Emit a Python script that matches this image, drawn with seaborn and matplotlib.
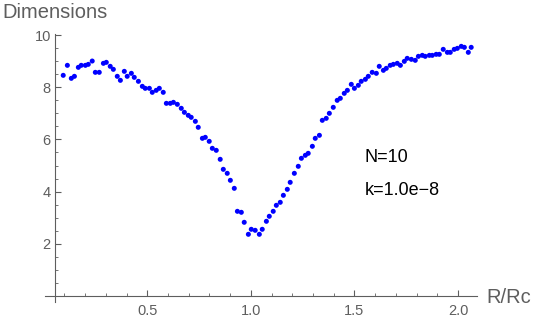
import numpy as np
import pandas as pd
import matplotlib
matplotlib.use("Agg")
import matplotlib.pyplot as plt
from matplotlib.ticker import MultipleLocator
import seaborn as sns

r_over_rc = [0.094, 0.114, 0.133, 0.148, 0.167, 0.181, 0.201, 0.215, 0.234, 0.249,
             0.268, 0.288, 0.302, 0.321, 0.336, 0.355, 0.370, 0.389, 0.403, 0.423,
             0.437, 0.457, 0.476, 0.490, 0.510, 0.524, 0.543, 0.558, 0.577, 0.592,
             0.611, 0.626, 0.645, 0.664, 0.679, 0.698, 0.712, 0.732, 0.746, 0.766,
             0.780, 0.799, 0.814, 0.833, 0.852, 0.867, 0.886, 0.901, 0.920, 0.935,
             0.954, 0.968, 0.988, 1.002, 1.021, 1.041, 1.055, 1.075, 1.089, 1.108,
             1.123, 1.142, 1.157, 1.176, 1.190, 1.210, 1.229, 1.244, 1.263, 1.277,
             1.297, 1.311, 1.331, 1.345, 1.364, 1.379, 1.398, 1.417, 1.432, 1.451,
             1.466, 1.485, 1.500, 1.519, 1.533, 1.553, 1.567, 1.586, 1.606, 1.620,
             1.640, 1.654, 1.673, 1.688, 1.707, 1.722, 1.741, 1.755, 1.775, 1.794,
             1.809, 1.828, 1.842, 1.862, 1.876, 1.895, 1.910, 1.929, 1.949, 1.963,
             1.982, 1.997, 2.016, 2.031, 2.050, 2.064]

dimensions = [8.456, 8.839, 8.341, 8.418, 8.762, 8.839, 8.839, 8.877, 9.004, 8.571,
              8.571, 8.916, 8.954, 8.801, 8.686, 8.418, 8.264, 8.609, 8.418, 8.533,
              8.379, 8.226, 8.034, 7.958, 7.958, 7.805, 7.881, 7.958, 7.805, 7.383,
              7.383, 7.421, 7.345, 7.192, 7.038, 6.923, 6.847, 6.693, 6.464, 6.042,
              6.080, 5.927, 5.659, 5.582, 5.238, 4.854, 4.701, 4.433, 4.126, 3.245,
              3.207, 2.824, 2.364, 2.556, 2.517, 2.364, 2.556, 2.862, 3.054, 3.245,
              3.475, 3.590, 3.858, 4.088, 4.356, 4.701, 4.969, 5.276, 5.391, 5.467,
              5.736, 6.042, 6.157, 6.732, 6.808, 7.000, 7.230, 7.498, 7.575, 7.766,
              7.881, 8.111, 7.958, 8.073, 8.226, 8.303, 8.418, 8.571, 8.533, 8.801,
              8.648, 8.724, 8.839, 8.877, 8.916, 8.839, 8.992, 9.107, 9.069, 9.031,
              9.184, 9.222, 9.184, 9.222, 9.222, 9.261, 9.261, 9.452, 9.337, 9.337,
              9.452, 9.490, 9.567, 9.529, 9.337, 9.529]

x_ticks = [0.5, 1.0, 1.5, 2.0]
x_tick_labels = ["0.5", "1.0", "1.5", "2.0"]
y_ticks = [2, 4, 6, 8, 10]
y_tick_labels = ["2", "4", "6", "8", "10"]

df = pd.DataFrame({"R/Rc": r_over_rc, "Dimensions": dimensions})

sns.set_theme(style="white")
plt.rcParams["font.family"] = ["Liberation Sans", "DejaVu Sans"]

gray = "#5e5e5e"
fig = plt.figure(figsize=(5.4, 3.19), dpi=100)
ax = fig.add_axes([45 / 540, 17 / 319, 432 / 540, 268 / 319])

sns.scatterplot(data=df, x="R/Rc", y="Dimensions", ax=ax, color="#0000ff",
                s=13, edgecolor="none", linewidth=0, legend=False)

ax.set_xlim(0.006, 2.092)
ax.set_ylim(-0.23, 10.04)
ax.set_xlabel("")
ax.set_ylabel("")

for side in ["top", "right"]:
    ax.spines[side].set_visible(False)
ax.spines["left"].set_position(("data", 0.0543))
ax.spines["bottom"].set_position(("data", 0))
for side in ["left", "bottom"]:
    ax.spines[side].set_color(gray)
    ax.spines[side].set_linewidth(0.8)

ax.set_xticks(x_ticks)
ax.set_xticklabels(x_tick_labels)
ax.set_yticks(y_ticks)
ax.set_yticklabels(y_tick_labels)
ax.xaxis.set_minor_locator(MultipleLocator(0.1))
ax.yaxis.set_minor_locator(MultipleLocator(0.5))
ax.tick_params(axis="both", which="major", direction="in", length=4, width=0.8,
               color=gray, labelcolor=gray, labelsize=10.5,
               bottom=True, left=True)
ax.tick_params(axis="both", which="minor", direction="in", length=2.3, width=0.6,
               color=gray, bottom=True, left=True)
ax.tick_params(axis="x", which="major", pad=6)
ax.tick_params(axis="y", which="major", pad=3)

fig.text(2 / 540, 1 - 18.5 / 319, "Dimensions", color=gray, fontsize=14.5,
         ha="left", va="baseline")
fig.text(486 / 540, 1 - 303 / 319, "R/Rc", color=gray, fontsize=14.5,
         ha="left", va="baseline")
fig.text(365 / 540, 1 - 162 / 319, "N=10", color="black", fontsize=13,
         ha="left", va="baseline")
fig.text(365 / 540, 1 - 195 / 319, "k=1.0e\u22128", color="black", fontsize=13,
         ha="left", va="baseline")

fig.savefig("out.png", dpi=100)
